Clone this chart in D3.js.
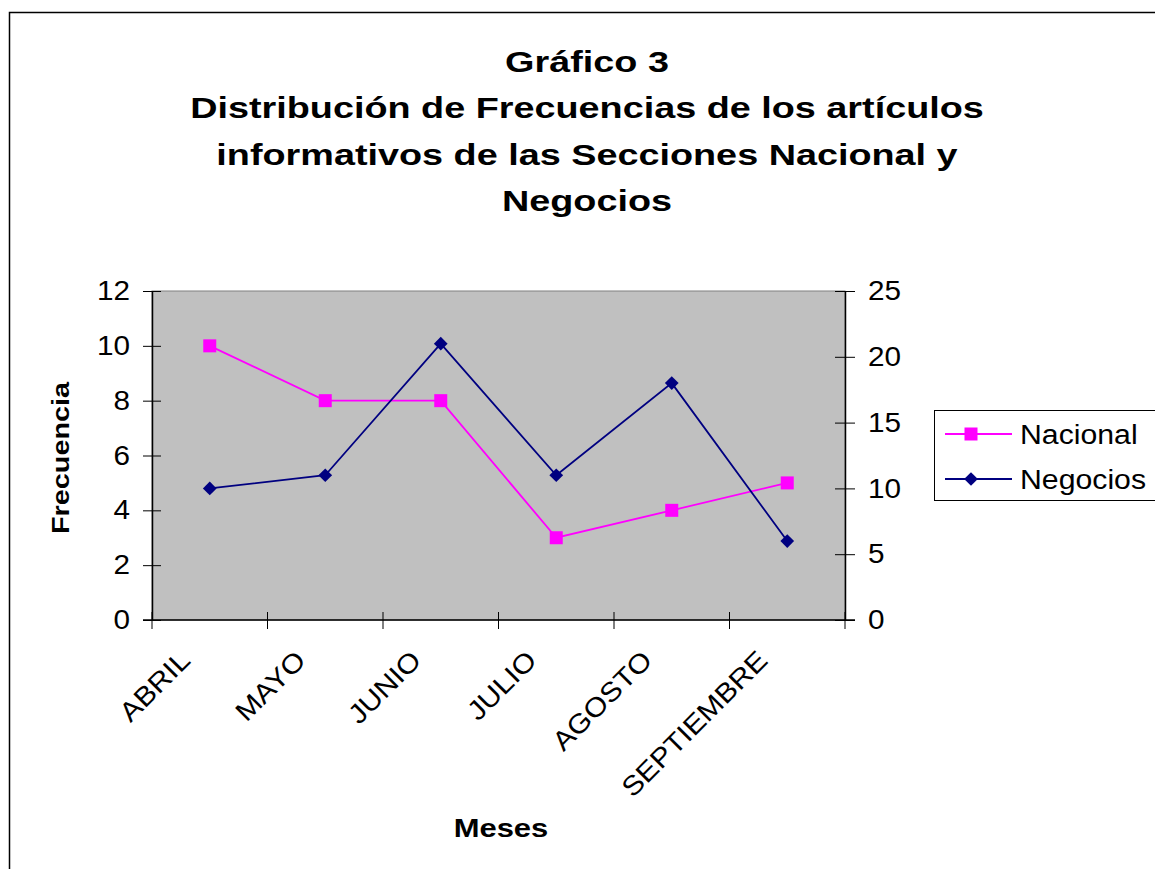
<!DOCTYPE html>
<html>
<head>
<meta charset="utf-8">
<style>
  body { margin: 0; background: #fff; }
  text { font-family: "Liberation Sans", Arial, sans-serif; fill: #000; }
</style>
</head>
<body>
<script src="https://cdn.jsdelivr.net/npm/d3@7"></script>
<script>
// data
var meses = ["ABRIL", "MAYO", "JUNIO", "JULIO", "AGOSTO", "SEPTIEMBRE"];
var nacional = [10, 8, 8, 3, 4, 5];     // left axis
var negocios = [10, 11, 21, 11, 18, 6]; // right axis
var leftTicks = [0, 2, 4, 6, 8, 10, 12];
var rightTicks = [0, 5, 10, 15, 20, 25];
var titleLines = ["Gráfico 3", "Distribución de Frecuencias de los artículos",
                  "informativos de las Secciones Nacional y", "Negocios"];

var width = 1155, height = 869;
var plot = { left: 152, right: 845, top: 291, bottom: 620 };

var svg = d3.select("body").append("svg")
    .attr("width", width)
    .attr("height", height);

// outer chart border (runs past the right/bottom edge)
svg.append("rect")
    .attr("x", 9.5).attr("y", 12.5)
    .attr("width", 1200).attr("height", 900)
    .attr("fill", "#fff").attr("stroke", "#000").attr("stroke-width", 1.5);

// title - the original text is a bit wider than Arial, so stretch it
svg.append("g").selectAll("text")
    .data(titleLines)
    .enter().append("text")
    .attr("transform", function (d, i) {
        return "translate(587," + (72 + i * 46.3) + ") scale(1.26,1)";
    })
    .attr("text-anchor", "middle")
    .style("font-size", "30px")
    .style("font-weight", "bold")
    .text(function (d) { return d; });

var x = d3.scaleBand().domain(meses).range([plot.left, plot.right]);
var yL = d3.scaleLinear().domain([0, 12]).range([plot.bottom, plot.top]);
var yR = d3.scaleLinear().domain([0, 25]).range([plot.bottom, plot.top]);

// plot area
svg.append("rect")
    .attr("x", plot.left).attr("y", plot.top)
    .attr("width", plot.right - plot.left).attr("height", plot.bottom - plot.top)
    .attr("fill", "#c0c0c0").attr("stroke", "#808080").attr("stroke-width", 1);

// left axis
var gL = svg.append("g")
    .attr("transform", "translate(" + plot.left + ",0)")
    .call(d3.axisLeft(yL).tickValues(leftTicks).tickSize(9).tickPadding(11).tickSizeOuter(0));
gL.selectAll(".tick line").attr("x1", 9);
gL.select(".domain").attr("stroke", "#000").attr("stroke-width", 1.5);
gL.selectAll("text").style("font-size", "27px").attr("font-family", null)
    .attr("transform", "scale(1.1,1)");

// right axis
var gR = svg.append("g")
    .attr("transform", "translate(" + plot.right + ",0)")
    .call(d3.axisRight(yR).tickValues(rightTicks).tickSize(10).tickPadding(11).tickSizeOuter(0));
gR.selectAll(".tick line").attr("x1", -10);
gR.select(".domain").attr("stroke", "#000").attr("stroke-width", 1.5);
gR.selectAll("text").style("font-size", "27px").attr("font-family", null)
    .attr("transform", "scale(1.1,1)");

// x axis with ticks between categories
var gX = svg.append("g")
    .attr("transform", "translate(0," + plot.bottom + ")");
gX.append("line")
    .attr("x1", plot.left - 9).attr("x2", plot.right + 10)
    .attr("stroke", "#000").attr("stroke-width", 1.5);
var edges = meses.map(function (m) { return x(m); }).concat([plot.right]);
gX.selectAll(".xt").data(edges).enter().append("line")
    .attr("x1", function (d) { return d; }).attr("x2", function (d) { return d; })
    .attr("y1", -8).attr("y2", 9)
    .attr("stroke", "#000").attr("stroke-width", 1);
gX.selectAll(".xl").data(meses).enter().append("text")
    .attr("text-anchor", "end")
    .style("font-size", "27px")
    .attr("transform", function (d) {
        return "translate(" + (x(d) + x.bandwidth() / 2 - 18) + ",42) rotate(-45) scale(1.11,1)";
    })
    .text(function (d) { return d; });

// axis titles
svg.append("text")
    .attr("transform", "translate(69,458) rotate(-90) scale(1.2,1)")
    .attr("text-anchor", "middle")
    .style("font-size", "24px").style("font-weight", "bold")
    .text("Frecuencia");
svg.append("text")
    .attr("transform", "translate(501,837) scale(1.19,1)")
    .attr("text-anchor", "middle")
    .style("font-size", "26px").style("font-weight", "bold")
    .text("Meses");

var cx = function (d, i) { return x(meses[i]) + x.bandwidth() / 2; };

// Nacional line (left axis)
svg.append("path")
    .datum(nacional)
    .attr("fill", "none").attr("stroke", "#ff00ff").attr("stroke-width", 1.8)
    .attr("d", d3.line().x(cx).y(function (d) { return yL(d); }));
svg.selectAll(".sq").data(nacional).enter().append("rect")
    .attr("x", function (d, i) { return cx(d, i) - 6.5; })
    .attr("y", function (d) { return yL(d) - 6.5; })
    .attr("width", 13).attr("height", 13)
    .attr("fill", "#ff00ff");

// Negocios line (right axis)
svg.append("path")
    .datum(negocios)
    .attr("fill", "none").attr("stroke", "#000080").attr("stroke-width", 1.8)
    .attr("d", d3.line().x(cx).y(function (d) { return yR(d); }));
var diamond = d3.symbol().type(d3.symbolDiamond2).size(120);
svg.selectAll(".dm").data(negocios).enter().append("path")
    .attr("d", diamond)
    .attr("transform", function (d, i) { return "translate(" + cx(d, i) + "," + yR(d) + ")"; })
    .attr("fill", "#000080");

// legend
var legend = svg.append("g");
legend.append("rect")
    .attr("x", 934.5).attr("y", 410.5)
    .attr("width", 240).attr("height", 90)
    .attr("fill", "#fff").attr("stroke", "#000").attr("stroke-width", 1);
var items = [
    { name: "Nacional", color: "#ff00ff", shape: "square" },
    { name: "Negocios", color: "#000080", shape: "diamond" }
];
items.forEach(function (it, i) {
    var ly = 434 + i * 45;
    legend.append("line")
        .attr("x1", 945).attr("x2", 1012).attr("y1", ly).attr("y2", ly)
        .attr("stroke", it.color).attr("stroke-width", 1.8);
    if (it.shape === "square") {
        legend.append("rect").attr("x", 964.5).attr("y", ly - 6.5)
            .attr("width", 13).attr("height", 13).attr("fill", it.color);
    } else {
        legend.append("path").attr("d", diamond)
            .attr("transform", "translate(971," + ly + ")").attr("fill", it.color);
    }
    legend.append("text")
        .attr("transform", "translate(1020," + (ly + 10) + ") scale(1.12,1)")
        .style("font-size", "27px")
        .text(it.name);
});
</script>
</body>
</html>
